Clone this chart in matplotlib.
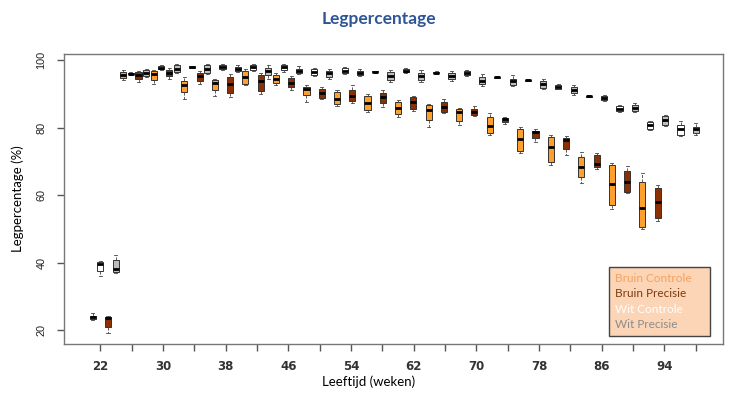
import matplotlib
matplotlib.use("Agg")
import matplotlib.pyplot as plt
from matplotlib.patches import Rectangle
import numpy as np

# Bruin Controle: leeftijd (weken) en box-statistieken (%)
bc_weeks = [21, 25, 29, 33, 37, 41, 45, 49, 53, 57, 61, 65, 69, 73, 77, 81, 85, 89, 93]
bc_med = [23.9, 95.6, 96.1, 92.7, 93.3, 95.0, 94.4, 91.5, 88.6, 87.4, 86.0, 85.3, 84.7, 80.5, 76.6, 74.2, 68.5, 63.3, 56.1]
bc_q1 = [23.3, 94.7, 94.3, 90.5, 91.3, 93.0, 93.2, 89.7, 87.0, 85.3, 84.1, 82.3, 82.1, 78.4, 73.1, 69.9, 65.5, 57.1, 50.7]
bc_q3 = [24.3, 96.5, 96.8, 93.9, 94.1, 96.8, 95.6, 92.2, 90.5, 89.4, 87.7, 86.7, 85.5, 83.3, 79.6, 77.2, 71.4, 69.0, 64.0]
bc_lo = [23.0, 94.3, 93.1, 88.5, 89.3, 92.6, 92.8, 87.7, 86.6, 84.8, 83.1, 80.3, 80.7, 77.8, 72.5, 69.0, 63.5, 55.9, 50.0]
bc_hi = [25.1, 97.2, 97.2, 95.1, 94.6, 97.4, 96.2, 92.6, 91.2, 90.0, 88.3, 87.1, 86.0, 84.5, 80.2, 78.0, 72.9, 69.6, 66.5]

# Bruin Precisie
bp_weeks = [23, 27, 31, 35, 39, 43, 47, 51, 55, 59, 63, 67, 71, 75, 79, 83, 87, 91, 95]
bp_med = [23.5, 95.7, 96.3, 95.4, 93.0, 94.0, 93.4, 90.4, 89.5, 89.0, 87.6, 86.3, 84.8, 82.5, 78.7, 76.4, 69.3, 63.9, 57.9]
bp_q1 = [21.0, 94.4, 95.3, 93.9, 90.2, 91.0, 92.2, 88.8, 88.0, 87.4, 85.6, 84.8, 83.7, 81.6, 76.9, 73.6, 68.3, 61.0, 53.3]
bp_q3 = [24.0, 96.7, 97.2, 96.3, 95.2, 95.8, 94.8, 91.5, 91.2, 90.4, 89.0, 87.6, 85.6, 83.0, 79.1, 76.9, 71.9, 67.3, 62.0]
bp_lo = [19.0, 93.5, 94.4, 93.1, 89.2, 90.0, 91.2, 88.5, 87.3, 86.3, 85.0, 84.3, 83.4, 81.2, 75.9, 71.9, 67.7, 60.7, 52.3]
bp_hi = [24.2, 97.0, 97.8, 97.0, 96.0, 96.2, 95.4, 92.0, 92.8, 91.2, 89.5, 88.5, 86.5, 83.3, 79.5, 77.7, 72.6, 68.7, 63.0]

# Wit Controle
wc_weeks = [22, 26, 30, 34, 38, 42, 46, 50, 54, 58, 62, 66, 70, 74, 78, 82, 86, 90, 94, 98]
wc_med = [39.6, 96.1, 97.8, 98.0, 98.1, 97.9, 97.9, 96.6, 97.0, 96.7, 96.9, 96.4, 96.2, 95.0, 94.1, 92.2, 89.3, 85.7, 80.7, 79.7]
wc_q1 = [37.5, 95.9, 97.4, 97.7, 97.4, 97.2, 97.2, 95.8, 96.4, 96.5, 96.5, 96.2, 95.6, 94.9, 94.0, 91.6, 89.1, 84.9, 79.6, 78.0]
wc_q3 = [40.2, 96.4, 98.2, 98.3, 98.7, 98.7, 98.5, 97.4, 97.7, 96.9, 97.5, 96.7, 96.8, 95.2, 94.3, 92.8, 89.5, 86.5, 81.7, 80.9]
wc_lo = [36.0, 95.7, 97.2, 97.6, 97.1, 96.9, 96.6, 95.3, 96.1, 96.4, 96.3, 96.1, 95.3, 94.8, 93.9, 91.4, 89.0, 84.6, 79.3, 77.6]
wc_hi = [40.6, 96.5, 98.5, 98.4, 99.0, 99.0, 98.8, 97.8, 98.0, 97.0, 97.7, 96.8, 97.1, 95.3, 94.4, 93.0, 89.6, 86.8, 82.0, 82.1]

# Wit Precisie
wp_weeks = [24, 28, 32, 36, 40, 44, 48, 52, 56, 60, 64, 68, 72, 76, 80, 84, 88, 92, 96, 100]
wp_med = [38.0, 96.3, 97.5, 97.5, 97.5, 96.8, 96.9, 96.2, 96.2, 95.4, 95.4, 95.4, 94.0, 93.8, 93.0, 91.2, 88.8, 85.9, 82.3, 79.6]
wp_q1 = [37.2, 95.5, 96.7, 96.3, 96.9, 95.8, 96.2, 95.2, 95.6, 94.2, 94.2, 94.4, 93.0, 92.8, 91.9, 90.2, 88.2, 84.9, 80.9, 78.5]
wp_q3 = [40.8, 97.2, 98.6, 98.6, 98.1, 97.7, 97.5, 96.9, 96.8, 96.6, 96.4, 96.2, 95.2, 94.6, 94.0, 92.2, 89.4, 86.7, 83.5, 80.3]
wp_lo = [36.8, 95.2, 96.4, 96.0, 96.5, 94.6, 95.9, 94.4, 95.3, 93.5, 93.6, 93.8, 92.5, 92.3, 91.5, 89.6, 88.0, 84.6, 80.5, 78.0]
wp_hi = [42.2, 97.5, 98.8, 98.9, 98.7, 98.5, 98.3, 97.5, 97.5, 97.2, 97.2, 96.8, 96.0, 95.8, 94.5, 92.6, 89.6, 87.5, 83.9, 81.3]

tick_labels = [22, 30, 38, 46, 54, 62, 70, 78, 86, 94]
legend_labels = ["Bruin Controle", "Bruin Precisie", "Wit Controle", "Wit Precisie"]


def box_stats(med, q1, q3, lo, hi):
    return [dict(med=m, q1=a, q3=b, whislo=l, whishi=h, fliers=[])
            for m, a, b, l, h in zip(med, q1, q3, lo, hi)]


W, H = 738, 396
fig = plt.figure(figsize=(W / 100, H / 100), dpi=100)
ax = fig.add_axes([64 / W, 52 / H, 659 / W, 290 / H])

groups = [
    (bc_weeks, box_stats(bc_med, bc_q1, bc_q3, bc_lo, bc_hi), "#FF9F2E"),
    (bp_weeks, box_stats(bp_med, bp_q1, bp_q3, bp_lo, bp_hi), "#8C2F02"),
    (wc_weeks, box_stats(wc_med, wc_q1, wc_q3, wc_lo, wc_hi), "#FFFFFF"),
    (wp_weeks, box_stats(wp_med, wp_q1, wp_q3, wp_lo, wp_hi), "#BDBDBD"),
]
for pos, st, col in groups:
    ax.bxp(st, positions=pos, widths=0.8, patch_artist=True, showfliers=False,
           manage_ticks=False, capwidths=0.4,
           boxprops=dict(facecolor=col, edgecolor="#333333", linewidth=0.7),
           medianprops=dict(color="black", linewidth=2),
           whiskerprops=dict(color="#444444", linewidth=0.6, linestyle="--"),
           capprops=dict(color="#444444", linewidth=0.6))

ax.set_xlim(17.24, 103.56)
ax.set_ylim(15.85, 101.9)

# R-stijl as: streepjes om de 4 weken, label om de 8
tick_pos = np.linspace(22, 100, 20)
ax.set_xticks(tick_pos)
lab = []
for k in range(len(tick_pos)):
    lab.append(str(tick_labels[k // 2]) if k % 2 == 0 else "")
ax.set_xticklabels(lab, fontsize=8.5, family="DejaVu Sans", fontweight="bold",
                   color="#333333")
ax.set_yticks([20, 40, 60, 80, 100])
ax.set_yticklabels(["20", "40", "60", "80", "100"], rotation=90, va="center",
                   fontsize=7.8, family="Liberation Sans", color="#222222")
ax.tick_params(axis="x", length=5, width=1, color="#555555", pad=6.5)
ax.tick_params(axis="y", length=5, width=1, color="#555555", pad=7.6)
for s in ax.spines.values():
    s.set_color("#777777")
    s.set_linewidth(1)

fig.text(379 / W, 1 - 19 / H, "Legpercentage", ha="center", va="center",
         fontsize=12.5, fontweight="bold", color="#2F5597", family="Lato")
fig.text(369 / W, 1 - 382 / H, "Leeftijd (weken)", ha="center", va="center",
         fontsize=9.5, family="Lato", color="black")
fig.text(18 / W, 1 - 199 / H, "Legpercentage (%)", ha="center", va="center",
         rotation=90, fontsize=9.5, family="Lato", color="black")

# legenda als tekstvak
fig.patches.append(Rectangle((609 / W, 60 / H), 101 / W, 69 / H,
                             transform=fig.transFigure, facecolor="#FBD5B5",
                             edgecolor="#444444", linewidth=1, zorder=5))
leg_colors = ["#F7A15C", "#7F3A10", "#FFFFFF", "#8C8C8C"]
for i, (txt, c) in enumerate(zip(legend_labels, leg_colors)):
    fig.text(615 / W, 1 - (278.3 + 15.5 * i) / H, txt, ha="left", va="center",
             fontsize=8.5, family="Lato", color=c, zorder=6)

fig.savefig("out.png", dpi=100)
